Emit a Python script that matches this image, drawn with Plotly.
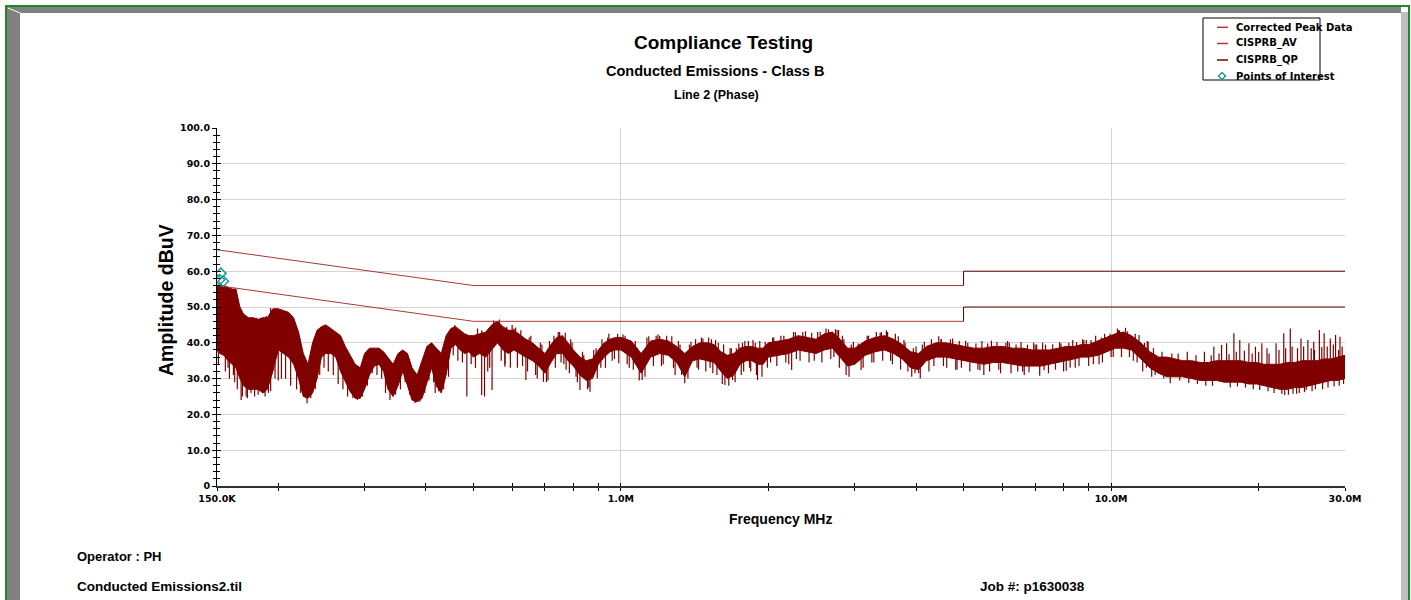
import math
import plotly.graph_objects as go

# ---------------- data ----------------
freq_mhz = [0.150,0.152,0.155,0.158,0.161,0.164,0.167,0.170,0.174,0.178,0.182,0.186,0.190,0.195,0.200,0.205,0.210,0.215,
            0.220,0.225,0.230,0.235,0.240,0.245,0.250,0.256,0.262,0.268,0.274,0.280,0.287,0.294,0.300,0.307,0.314,0.321,
            0.328,0.335,0.343,0.351,0.359,0.367,0.375,0.384,0.393,0.402,0.411,0.420,0.430,0.440,0.450,0.460,0.470,0.480,
            0.490,0.500,0.515,0.530,0.545,0.560,0.575,0.590,0.605,0.620,0.640,0.660,0.680,0.700,0.720,0.740,0.760,0.780,
            0.800,0.825,0.850,0.875,0.900,0.925,0.950,0.975,1.00,1.05,1.10,1.15,1.20,1.25,1.30,1.35,1.40,1.45,1.50,1.55,
            1.60,1.65,1.70,1.75,1.80,1.85,1.90,1.95,2.0,2.1,2.2,2.3,2.4,2.5,2.6,2.7,2.8,2.9,3.0,3.15,3.3,3.45,3.6,3.75,
            3.9,4.05,4.2,4.4,4.6,4.8,5.0,5.25,5.5,5.75,6.0,6.3,6.6,6.9,7.2,7.5,7.8,8.1,8.4,8.7,9.0,9.4,9.8,10.2,10.6,
            11.0,11.5,12.0,12.5,13.0,13.5,14.0,14.6,15.2,15.8,16.4,17.0,17.7,18.4,19.1,19.8,20.5,21.3,22.1,22.9,23.7,
            24.5,25.4,26.3,27.2,28.1,29.0,30.0]

peak_hi = [56,56,56,55.5,55,55,50,48,47,47,46.5,47,47,49.5,49.5,49,48.5,47,
           43,37,34,40,43.5,44.5,45,44,43,42,39,36.5,34,33,37,38.5,38.5,38.5,
           37.5,36,34,37,38,37,33,31,35,39,40,38.5,37,42,44,44.5,43.5,42.5,
           42,42,42.5,43,45,46,44.5,43.5,43.5,42.5,41,40,38.5,37,39.5,41.5,42,40,
           38,36,35,35.5,38,40,41,41.5,41.5,40.5,37,40.5,41,40.5,39,37,39,40,40,39.5,
           37.5,36.5,37,38.5,39,39,38.5,38.5,40,40.5,41,42,41.5,41,42.5,43,41,38.5,38.5,40.5,41.5,42,41,39.5,
           37.5,37,39,40,40,39.5,39,38.5,38.5,39,39,38.5,38.5,38,38,38,38.5,39,39,39.5,39.5,40.5,41.5,42.5,43,
           42,40,37.5,36,36,35.5,35,35,34.5,34.5,35,35,35,35,34.5,34.5,34,34,34,34.5,34.5,
           35,35,35,35.5,35.5,36,36.5]

peak_lo = [38,37,36.5,35,34,33,30,28,27,27,27,26,27,32,38,37,36,34,
           30,25,24.5,26,30,36,37,37,36,32,29,26.5,24.5,24.5,27,31,33.5,34,
           32,27,25,28,32,28,24,23.5,24.5,29,33,28,26,31,38.5,39.5,38,37,
           37.5,36,37,36,38,40,38,37,38,37,36,35,33.5,31.5,34.5,37,37,35,
           33.5,31,29.5,30,34,36,37.5,38,38,36,31.5,36,37,36.5,34.5,30.5,35,35.5,35,34.5,
           32,30,31,34,35,35,34,34,36,36.5,37,38,37.5,37,38,38.5,36,33.5,34,36.5,37.5,38,37,35.5,
           33,32.5,35,36,36,35.5,35,34.5,34,34.5,34.5,34,33.5,33.5,33.5,34,34.5,35,35.5,36,36,36.5,37.5,38.5,38.5,
           38,35.5,33,31.5,30.5,30.5,30.5,30,29.5,29.5,29.5,29,29,29,28.5,28.5,28,27.5,27,27,27.5,
           27.5,28,28.5,29,29.5,29.5,30]

# individual spikes of the peak trace: frequency (MHz), start level, end level (dBuV)
spike_f = [0.158,0.162,0.168,0.172,0.176,0.182,0.188,0.193,0.200,0.229,0.284,0.338,0.380,0.418,0.485,0.520,0.527,
           0.546,0.580,0.640,0.695,0.773,0.825,0.865,0.990,1.06,1.105,1.35,1.63,1.69,1.90,1.94,2.23,2.88,3.09,
           3.98,4.05,4.85,5.4,6.6,7.3,8.1,13.2,22.6,23.9,25.0,
           0.167,0.176,0.184,0.193,0.458,0.556,0.605,1.2,2.05,2.55,2.76,2.78,3.4,4.5,6.2,7.0,8.9,9.75,10.4,11.9,
           16.2,16.8,17.2,17.8,18.3,19.1,19.7,20.3,21.7,22.5,23.2,24.4,25.2,25.9,26.6,27.2,28.0,28.7,29.3]
spike_from = [36,35,35,35,38,36,36,40,40,30,30,30,28,32,38,38,38,
              40,40,38,35,38,33,32,39,38,34,33,33,33,36,36,38,36,36,
              35,35,37,36,35,35,36,32,30,30,30,
              45,44,44,44,42,43,42,39,38,40,40,40,40,38,37,36,38,39,41,36,
              33,33,33,33,33,33,33,33,32,32,32,33,33,33,33,33,33,34,34]
spike_to = [33,31,24,25,26,25.5,25,26.5,29.5,23.1,24.5,24,23.2,26,25,25.4,25,
            26.8,33.3,29.6,29.1,32.5,26.8,26.3,34.3,32.5,29.6,28.7,28.2,29.6,29.6,30.5,32.4,31,32.4,
            31.5,31.5,32.5,32.3,31.9,32.3,32.2,28.7,25.4,25.8,26.8,
            50,47,47,49.7,45,45.9,44,42,41.5,43.1,43.6,43.6,43,41,40,39.5,40.8,41.2,43.5,40.3,
            38.9,39.4,39.9,42.7,40.8,39.9,38.9,39.9,39.9,42.7,44.0,41.2,40.8,40.3,43.6,42.7,41.2,42.2,41.7]

# finer edge spikes (ragged band edges)
edge_f = [0.151,0.153,0.156,0.159,0.163,0.165,0.169,0.171,0.173,0.175,0.177,0.179,0.181,0.183,0.185,0.187,0.189,0.191,
          0.197,0.203,0.207,0.212,0.218,0.222,0.227,0.233,0.238,0.243,0.248,0.253,0.259,0.265,0.271,0.277,0.290,0.297,
          0.304,0.311,0.318,0.325,0.331,0.347,0.355,0.363,0.371,0.389,0.398,0.406,0.415,0.425,0.435,0.445,0.455,0.465,
          0.475,0.495,0.505,
          0.51,0.535,0.55,0.57,0.585,0.595,0.61,0.63,0.65,0.67,0.69,0.71,0.73,0.75,0.765,0.79,0.81,0.84,0.86,0.89,
          0.91,0.94,0.96,0.985,1.02,1.03,1.08,1.12,1.13,1.18,1.22,1.27,1.28,1.32,1.33,1.38,1.42,1.43,1.47,1.52,1.53,
          1.57,1.58,1.67,1.72,1.77,1.78,1.82,1.83,1.88,1.97,2.02,2.15,2.17,2.25,2.28,2.35,2.45,2.48,2.65,2.72,2.85,
          2.95,3.05,3.2,3.25,3.38,3.5,3.55,3.68,3.8,3.85,3.95,4.12,4.3,4.35,4.5,4.55,4.7,4.9,4.95,5.1,5.3,5.35,5.6,
          5.65,5.85,5.9,6.1,6.4,6.45,6.75,6.8,7.05,7.35,7.6,7.7,7.9,8.2,8.25,8.5,8.6,8.8,9.1,9.2,9.55,9.6,9.95,10.0,
          10.35,10.8,10.9,11.2,11.3,11.7,11.8,12.2,12.3,12.7,12.8,13.3,13.7,13.8,14.3,14.4,14.9,15.0,15.5,15.6,16.0,
          16.1,16.6,17.4,17.5,18.0,18.1,18.7,18.8,19.4,19.5,20.0,20.1,20.8,20.9,21.0,21.5,22.0,22.3,22.7,23.0,23.4,
          23.5,24.0,24.2,24.7,24.8,25.6,25.7,26.0,26.1,26.9,27.0,27.6,27.7,28.4,28.5,29.1,29.2,29.6,29.8]
edge_from = [40,50,38,40,38,40,35,40,35,36,40,35,40,35,40,35,40,34,
             38,40,38,38,35,32,30,32,35,38,40,40,39,37,35,33,30,30,
             34,36,36,35,33,30,34,35,33,28,32,36,36,34,35,38,42,41,
             40,40,40,
             40,38,42,42,41,40,41,39,38,37,36,36,39,40,39,38,36,33,33,35,
             37,39,39,40,39,38,35,35,38,39,38,39,37,36,35,36,38,37,38,37,38,
             37,37,34,35,37,36,37,37,37,37,38,39,38,40,39,40,40,39,41,40,38,
             36,36,39,38,40,40,39,39,37,36,35,36,38,37,38,37,38,37,36,37,36,36,36,
             36,37,36,37,36,36,36,35,36,36,36,36,36,37,36,37,37,38,38,37,38,38,40,39,
             41,40,39,40,38,37,36,35,34,34,33,33,33,32,33,32,32,31,32,31,32,
             31,32,32,31,32,31,32,31,32,31,32,30,32,30,31,30,31,30,31,30,31,
             30,31,30,31,30,31,30,31,30,32,30,32,30,32,31,32,31,32,31]
edge_to = [34,56.5,32,30,29,27,25,47.5,24.5,27,46.5,25,47,28,46,26,47.5,26,
           30,30,30,28,27,26,25,24.5,27,31,33,32,31,28.5,27,25,24,25,
           28,31.5,31,30,26,25.5,27,29,25.5,23.5,26,29.5,29,26.5,27,30.5,36.5,35,
           34.5,34,33,
           44,32,46.2,35,44.5,33,44.3,33.5,41.5,31,39.5,29.5,42,43,34,41,30.5,36.5,27.5,38.5,
           33,41.5,35,42.5,42,34,38.5,30.5,41.5,42,34,41.8,33,39.5,31,39.5,41,33,41.2,33,41,
           31,40,38.5,38.5,40,32,40.5,33,40,40.3,34.5,42,34.5,43,35.5,43,42.8,35,43.8,36,41,
           39.5,39.8,42,34.5,42.8,43,35,41.8,40,32,38.5,39.5,41,33.5,41,33.5,41,40.5,33,40,39.8,32.5,39.8,
           32,40.2,32.5,40,39.5,32,39.5,31.8,39.5,39.5,39.6,32.5,39.8,40,33,40.2,33.5,40.8,40.8,34,41.5,34.5,42.5,36,
           43.5,43.2,36,42.5,34.5,40,33,38.5,31,37.5,30,37,37,29.5,37.5,28.8,36.5,28.5,37.5,28,36.5,
           28,37,36.8,27.5,37.5,27.8,37.8,27.5,37,27,37.5,26.8,38.5,26.5,37,26,38,25.8,38.5,25.5,39,
           25.8,38.5,26,39,26.2,38.5,26.5,38,27,38.8,27,39,27.5,39.5,27.8,38,28,39,28.5]

# second set of short edge spikes between 0.5 and 12 MHz
edge2_f = [0.52,0.54,0.565,0.58,0.60,0.615,0.625,0.645,0.655,0.675,0.685,0.705,0.715,0.735,0.745,0.755,0.77,0.785,
           0.795,0.815,0.835,0.855,0.88,0.895,0.915,0.93,0.945,0.97,1.01,1.04,1.07,1.09,1.14,1.165,1.19,1.21,1.24,
           1.29,1.31,1.37,1.39,1.44,1.46,1.49,1.51,1.54,1.56,1.61,1.62,1.66,1.68,1.71,1.74,1.76,1.79,1.84,1.86,1.89,
           1.92,1.99,2.04,2.08,2.12,2.2,2.27,2.32,2.38,2.42,2.52,2.57,2.62,2.68,2.74,2.79,2.83,2.92,2.98,3.12,3.18,
           3.28,3.32,3.42,3.48,3.58,3.63,3.72,3.78,3.92,4.0,4.08,4.16,4.25,4.45,4.62,4.75,4.82,5.05,5.15,5.45,5.5,
           5.7,5.95,6.15,6.25,6.55,6.65,6.95,7.15,7.25,7.45,7.85,8.0,8.35,8.45,8.75,9.0,9.3,9.45,9.7,10.1,10.3,10.5,
           10.7,11.1,11.4,11.6,11.85,12.1]
edge2_from = [41,39,43,40,42,39,40,38,39,36,36,34,37,38,40,39,39,37,
              37,34,34,32,34,35,37,38,39,40,40,38,37,35,38,38,39,39,39,
              36,37,35,37,37,38,37,38,36,37,34,36,33,35,33,36,36,37,37,37,36,
              37,38,38,38,39,39,40,40,40,39,40,39,41,40,40,38,38,36,37,38,39,
              39,40,40,40,39,39,37,37,35,35,35,37,37,38,38,38,37,37,37,37,36,
              37,36,37,36,37,35,36,35,36,36,37,37,37,37,38,38,39,38,39,40,41,40,
              41,39,39,37,37,35]
edge2_to = [43.5,33,46.5,34,45,33,43.5,32,42,30,40,29,40.5,33,43,34.5,42.8,31.5,
            40,29,37.5,27,38,30,41,33,42.5,35.5,42.3,33,40.5,29.5,41.8,33.5,42.3,33.5,42,
            31,40.5,30,40.3,32.5,41.5,32,41.5,31.5,40.8,28.5,39.5,28,38.5,29,39.8,31,40.5,32,40.8,31,
            40.5,33,41.5,33.5,42,34,43,35,43.2,34.5,43,34.5,44,35.5,43.8,33,42,30.5,40.3,33,42,
            34.5,43,35,43.5,34,42.5,32.5,40.8,30.5,39,30,40.3,32,41.8,33,41.2,32.5,40.6,32,40.5,31,
            40.6,31.5,40.5,31.5,40.2,31,40,30.8,40,31.5,40.2,32,40.8,33,41,33.5,42,34,42.5,36,44,36,
            44.2,35,42.2,32,40.5,30.5]

# limit lines
qp_f = [0.15, 0.5, 5.0, 5.0, 30.0]
qp_db = [66, 56, 56, 60, 60]
av_f = [0.15, 0.5, 5.0, 5.0, 30.0]
av_db = [56, 46, 46, 50, 50]

# points of interest
poi_f = [0.1518, 0.1527, 0.1545]
poi_db = [57.6, 59.4, 57.2]

# axis ticks
x_major_vals = [0.15, 1.0, 10.0, 30.0]
x_major_text = ["150.0K", "1.0M", "10.0M", "30.0M"]
x_minor_vals = [0.2, 0.3, 0.4, 0.5, 0.6, 0.7, 0.8, 0.9, 2, 3, 4, 5, 6, 7, 8, 9, 20]
y_vals = [0, 10, 20, 30, 40, 50, 60, 70, 80, 90, 100]
y_text = ["0", "10.0", "20.0", "30.0", "40.0", "50.0", "60.0", "70.0", "80.0", "90.0", "100.0"]

legend_names = ["Corrected Peak Data", "CISPRB_AV", "CISPRB_QP", "Points of Interest"]

# ---------------- figure ----------------
W, H = 1411, 600
L, R, T, B = 217, 66, 128, 114
PW, PH = W - L - R, H - T - B


def px(x):
    return (x - L) / PW


def py(y):
    return (H - B - y) / PH


FONT = "Liberation Sans, Arial, sans-serif"
WIDE = "DejaVu Sans, Verdana, sans-serif"
MAROON = "#800000"
LIMIT_LIGHT = "#a83838"
LIMIT_DARK = "#600000"

band_x = freq_mhz + freq_mhz[::-1]
band_y = peak_hi + peak_lo[::-1]

sx, sy = [], []
all_spikes = (list(zip(spike_f, spike_from, spike_to)) + list(zip(edge_f, edge_from, edge_to))
              + list(zip(edge2_f, edge2_from, edge2_to)))
for f, a, b in all_spikes:
    sx += [f, f, None]
    sy += [a, b, None]

fig = go.Figure()
fig.add_trace(go.Scatter(x=band_x, y=band_y, mode="lines", fill="toself", fillcolor=MAROON,
                         line=dict(color=MAROON, width=1), showlegend=False, hoverinfo="skip"))
fig.add_trace(go.Scatter(x=sx, y=sy, mode="lines", line=dict(color=MAROON, width=1.2),
                         name=legend_names[0], showlegend=False))
# limit lines: the part up to 5 MHz is drawn lighter than the part above, as in the reference
for lf, ldb, nm in [(av_f, av_db, legend_names[1]), (qp_f, qp_db, legend_names[2])]:
    fig.add_trace(go.Scatter(x=lf[:3], y=ldb[:3], mode="lines", line=dict(color=LIMIT_LIGHT, width=1),
                             name=nm, showlegend=False))
    fig.add_trace(go.Scatter(x=lf[2:], y=ldb[2:], mode="lines", line=dict(color=LIMIT_DARK, width=1),
                             name=nm, showlegend=False))
fig.add_trace(go.Scatter(x=poi_f, y=poi_db, mode="markers",
                         marker=dict(symbol="diamond-open", size=8, color="#1b9a9a", line=dict(width=1.5)),
                         name=legend_names[3], showlegend=False))
# dummy trace for overlay axes (inside tick marks)
fig.add_trace(go.Scatter(x=[None], y=[None], xaxis="x2", yaxis="y2", showlegend=False, hoverinfo="skip"))

xr = [math.log10(0.15), math.log10(30)]
tickfont = dict(family=WIDE, size=9.5, color="black", weight="bold")

fig.update_layout(
    width=W, height=H,
    margin=dict(l=L, r=R, t=T, b=B),
    paper_bgcolor="white", plot_bgcolor="white",
    showlegend=False,
    xaxis=dict(type="log", range=xr, tickmode="array", tickvals=x_major_vals, ticktext=x_major_text,
               ticks="outside", ticklen=3, tickcolor="black", tickfont=tickfont,
               showline=True, linecolor="#333333", linewidth=2,
               showgrid=True, gridcolor="#d4d4d4", gridwidth=1, zeroline=False,
               minor=dict(tickmode="array", tickvals=x_minor_vals, ticks="outside", ticklen=3,
                          tickcolor="black", showgrid=False)),
    yaxis=dict(range=[0, 100], tickmode="array", tickvals=y_vals, ticktext=y_text,
               ticks="outside", ticklen=4, tickcolor="black", tickfont=tickfont,
               showline=True, linecolor="black", linewidth=1,
               showgrid=True, gridcolor="#d4d4d4", gridwidth=1, zeroline=False,
               minor=dict(dtick=2, ticks="outside", ticklen=3, tickcolor="black", showgrid=False)),
    xaxis2=dict(type="log", range=xr, overlaying="x", anchor="y", side="bottom",
                tickmode="array", tickvals=x_major_vals, ticks="inside", ticklen=3, tickcolor="black",
                showticklabels=False, showgrid=False, showline=False, zeroline=False,
                minor=dict(tickmode="array", tickvals=x_minor_vals, ticks="inside", ticklen=3,
                           tickcolor="black", showgrid=False)),
    yaxis2=dict(range=[0, 100], overlaying="y", anchor="x", side="left",
                tickmode="array", tickvals=y_vals, ticks="inside", ticklen=4, tickcolor="black",
                showticklabels=False, showgrid=False, showline=False, zeroline=False,
                minor=dict(dtick=2, ticks="inside", ticklen=3, tickcolor="black", showgrid=False)),
)

# titles, axis titles and footer text
texts = [
    ("Compliance Testing", 723, 42, 19, "center", 0),
    ("Conducted Emissions - Class B", 715, 71, 14.5, "center", 0),
    ("Line 2 (Phase)", 716, 95, 12.5, "center", 0),
    ("Frequency MHz", 780, 519, 14, "center", 0),
    ("Amplitude dBuV", 166, 300, 19.5, "center", -90),
    ("Operator : PH", 75, 556, 13, "left", 0),
    ("Conducted Emissions2.til", 75, 586, 13.5, "left", 0),
    ("Job #: p1630038", 978, 586, 13.5, "left", 0),
]
for t, x, y, s, anc, ang in texts:
    fig.add_annotation(text=t, xref="paper", yref="paper", x=px(x), y=py(y), xanchor=anc, yanchor="middle",
                       showarrow=False, textangle=ang,
                       font=dict(family=FONT, size=s, color="black", weight="bold"))

# legend drawn by hand (box narrower than its text, as in the reference)
shapes = [dict(type="rect", x0=px(1203), x1=px(1320), y0=py(18), y1=py(80),
               fillcolor="white", line=dict(color="black", width=1))]
legend_rows = [27.3, 43.5, 60, 76]
legend_cols = ["#b03a3a", "#b03a3a", "#7a0000"]
for i, yy in enumerate(legend_rows[:3]):
    shapes.append(dict(type="line", x0=px(1217), x1=px(1228), y0=py(yy), y1=py(yy),
                       line=dict(color=legend_cols[i], width=1.5)))
cx, cy, d = 1222, 76, 3.5
shapes.append(dict(type="path",
                   path=f"M {px(cx)} {py(cy - d)} L {px(cx + d)} {py(cy)} L {px(cx)} {py(cy + d)} L {px(cx - d)} {py(cy)} Z",
                   line=dict(color="#1b9a9a", width=1.5)))
for name, yy in zip(legend_names, legend_rows):
    fig.add_annotation(text=name, xref="paper", yref="paper", x=px(1234), y=py(yy), xanchor="left",
                       yanchor="middle", showarrow=False,
                       font=dict(family=WIDE, size=10, color="black", weight="bold"))

# page frame decoration
shapes += [
    dict(type="rect", x0=px(7), x1=px(20), y0=py(7), y1=py(610), fillcolor="#808080", line=dict(width=0)),
    dict(type="rect", x0=px(7), x1=px(1401), y0=py(7), y1=py(13), fillcolor="#808080", line=dict(width=0)),
    dict(type="rect", x0=px(1401), x1=px(1408), y0=py(12), y1=py(610), fillcolor="#c0c0c0", line=dict(width=0)),
    dict(type="line", x0=px(8), x1=px(20), y0=py(8), y1=py(13), line=dict(color="white", width=1)),
    dict(type="rect", x0=px(6), x1=px(1409), y0=py(6), y1=py(620), line=dict(color="#1f8a1f", width=2)),
]
for s in shapes:
    s.update(xref="paper", yref="paper", layer="above")
    fig.add_shape(**s)

fig.write_html("out.html", config={"displayModeBar": False},
               post_script="document.body.style.margin='0';document.body.style.overflow='hidden';")
